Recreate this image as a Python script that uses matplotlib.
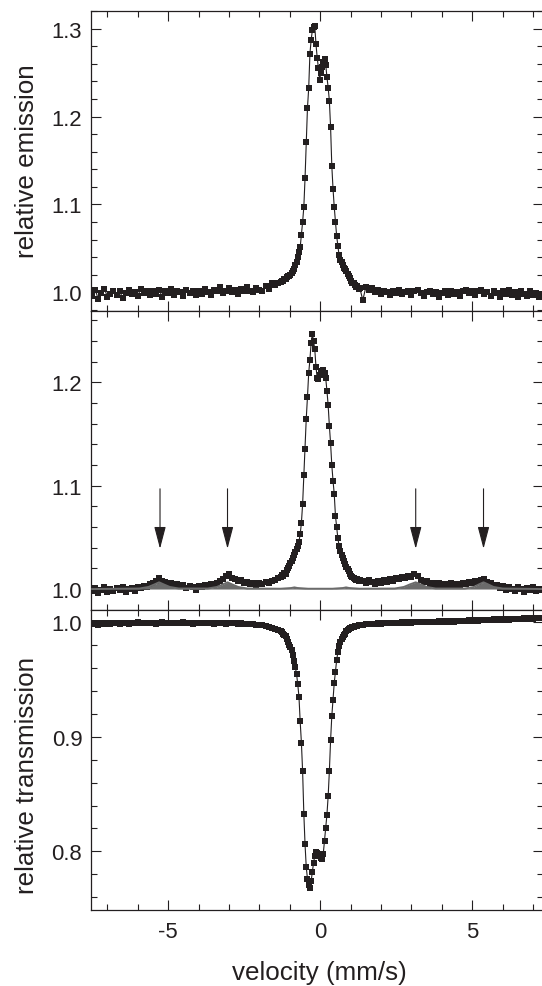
import numpy as np
import matplotlib.pyplot as plt
import matplotlib as mpl
from matplotlib.ticker import MultipleLocator, FormatStrFormatter

INK = "#231f20"
GREY = "#6b6b6b"
mpl.rcParams.update({"font.family": ["Liberation Sans", "DejaVu Sans"], "axes.unicode_minus": False,
    "text.color": INK, "axes.edgecolor": INK, "axes.labelcolor": INK,
    "xtick.color": INK, "ytick.color": INK, "axes.linewidth": 0.9})

# velocity channels (mm/s), shared by the three spectra
vel_left = [-7.5, -7.4, -7.3, -7.2, -7.1, -7.0, -6.9, -6.8, -6.7, -6.6,
            -6.5, -6.4, -6.3, -6.2, -6.1, -6.0, -5.9, -5.8, -5.7, -5.6,
            -5.5, -5.4, -5.3, -5.2, -5.1, -5.0, -4.9, -4.8, -4.7, -4.6,
            -4.5, -4.4, -4.3, -4.2, -4.1, -4.0, -3.9, -3.8, -3.7, -3.6,
            -3.5, -3.4, -3.3, -3.2, -3.1, -3.0, -2.9, -2.8, -2.7, -2.6,
            -2.5, -2.4, -2.3, -2.2, -2.1, -2.0, -1.9, -1.8, -1.7, -1.6,
            -1.5, -1.4]
vel_mid = [-1.30, -1.26, -1.22, -1.18, -1.14, -1.10, -1.06, -1.02, -0.98, -0.94,
           -0.90, -0.86, -0.82, -0.78, -0.74, -0.70, -0.66, -0.62, -0.58, -0.54,
           -0.50, -0.46, -0.42, -0.38, -0.34, -0.30, -0.26, -0.22, -0.18, -0.14,
           -0.10, -0.06, -0.02, 0.02, 0.06, 0.10, 0.14, 0.18, 0.22, 0.26,
           0.30, 0.34, 0.38, 0.42, 0.46, 0.50, 0.54, 0.58, 0.62, 0.66,
           0.70, 0.74, 0.78, 0.82, 0.86, 0.90, 0.94, 0.98, 1.02, 1.06,
           1.10, 1.14, 1.18, 1.22, 1.26, 1.30]
vel_right = [1.4, 1.5, 1.6, 1.7, 1.8, 1.9, 2.0, 2.1, 2.2, 2.3,
             2.4, 2.5, 2.6, 2.7, 2.8, 2.9, 3.0, 3.1, 3.2, 3.3,
             3.4, 3.5, 3.6, 3.7, 3.8, 3.9, 4.0, 4.1, 4.2, 4.3,
             4.4, 4.5, 4.6, 4.7, 4.8, 4.9, 5.0, 5.1, 5.2, 5.3,
             5.4, 5.5, 5.6, 5.7, 5.8, 5.9, 6.0, 6.1, 6.2, 6.3,
             6.4, 6.5, 6.6, 6.7, 6.8, 6.9, 7.0, 7.1, 7.2, 7.3]

# air side, relative emission
air_left = [0.996, 1.003, 0.992, 0.999, 1.004, 0.995, 0.998, 1.002, 0.997, 1.001,
            0.994, 0.999, 1.003, 0.998, 1.000, 0.996, 1.004, 0.999, 1.001, 0.997,
            1.002, 0.998, 1.003, 0.995, 1.001, 0.999, 1.004, 0.997, 1.002, 1.000,
            0.996, 1.003, 0.999, 1.001, 0.997, 1.002, 0.998, 1.004, 1.000, 0.997,
            1.003, 1.001, 1.006, 0.999, 1.002, 1.005, 1.000, 1.003, 0.998, 1.004,
            1.001, 1.006, 1.002, 1.000, 1.005, 1.003, 1.001, 1.007, 1.004, 1.010,
            1.008, 1.011]
air_mid = [1.012, 1.013, 1.013, 1.015, 1.015, 1.017, 1.018, 1.019, 1.020, 1.022,
           1.024, 1.027, 1.031, 1.035, 1.040, 1.046, 1.051, 1.065, 1.080, 1.097,
           1.130, 1.171, 1.210, 1.232, 1.271, 1.287, 1.298, 1.302, 1.303, 1.282,
           1.267, 1.255, 1.241, 1.250, 1.256, 1.262, 1.265, 1.259, 1.245, 1.233,
           1.218, 1.188, 1.144, 1.118, 1.097, 1.080, 1.064, 1.053, 1.042, 1.037,
           1.035, 1.031, 1.028, 1.026, 1.024, 1.021, 1.019, 1.016, 1.013, 1.011,
           1.010, 1.008, 1.006, 1.007, 1.004, 1.005]
air_right = [0.991, 1.006, 1.003, 1.005, 1.000, 1.003, 0.998, 1.002, 1.000, 0.997,
             1.001, 0.999, 1.003, 0.998, 1.000, 1.002, 0.997, 1.001, 1.003, 0.999,
             0.996, 1.000, 1.002, 0.998, 1.000, 0.995, 0.999, 1.001, 0.997, 1.002,
             0.998, 1.000, 0.996, 1.001, 1.003, 0.999, 1.002, 0.997, 1.001, 1.003,
             0.998, 1.000, 0.996, 1.002, 0.999, 0.995, 1.001, 0.998, 1.003, 0.997,
             1.000, 0.995, 1.002, 0.998, 0.996, 1.001, 0.997, 0.999, 0.995, 0.998]

# wheel side, relative emission
wheel_left = [0.998, 1.001, 0.996, 0.999, 1.002, 0.997, 1.000, 0.998, 1.001, 0.999,
              1.002, 0.997, 1.000, 1.001, 0.998, 1.002, 1.001, 1.003, 1.002, 1.005,
              1.006, 1.008, 1.011, 1.008, 1.007, 1.005, 1.006, 1.004, 1.005, 1.003,
              1.004, 1.001, 1.003, 1.002, 0.999, 1.003, 1.002, 1.004, 1.003, 1.005,
              1.004, 1.006, 1.008, 1.010, 1.013, 1.015, 1.011, 1.010, 1.008, 1.009,
              1.006, 1.007, 1.005, 1.006, 1.004, 1.006, 1.005, 1.007, 1.006, 1.008,
              1.009, 1.011]
wheel_mid = [1.012, 1.014, 1.013, 1.016, 1.015, 1.018, 1.020, 1.022, 1.025, 1.027,
             1.030, 1.033, 1.036, 1.039, 1.042, 1.046, 1.053, 1.064, 1.082, 1.110,
             1.136, 1.165, 1.186, 1.209, 1.222, 1.238, 1.247, 1.240, 1.232, 1.215,
             1.204, 1.203, 1.207, 1.209, 1.211, 1.212, 1.209, 1.204, 1.192, 1.178,
             1.158, 1.141, 1.120, 1.105, 1.092, 1.071, 1.060, 1.049, 1.042, 1.037,
             1.033, 1.030, 1.027, 1.024, 1.021, 1.019, 1.017, 1.015, 1.013, 1.012,
             1.011, 1.010, 1.009, 1.010, 1.008, 1.009]
wheel_right = [1.008, 1.006, 1.009, 1.007, 1.005, 1.008, 1.006, 1.009, 1.007, 1.010,
               1.008, 1.011, 1.010, 1.012, 1.011, 1.013, 1.012, 1.015, 1.013, 1.009,
               1.007, 1.008, 1.005, 1.006, 1.004, 1.006, 1.003, 1.005, 1.004, 1.006,
               1.003, 1.005, 1.004, 1.006, 1.005, 1.007, 1.006, 1.008, 1.007, 1.009,
               1.010, 1.007, 1.006, 1.003, 1.004, 1.001, 1.003, 0.999, 1.002, 1.000,
               0.998, 1.002, 1.000, 0.997, 1.001, 0.999, 1.002, 0.998, 1.000, 0.999]

# grey sub-spectrum under the wheel-side data
comp_vel = [-7.5, -5.95, -5.65, -5.45, -5.3, -5.15, -4.95, -4.65, -3.7, -3.4,
            -3.2, -3.05, -2.9, -2.7, -2.4, -1.3, -0.95, -0.85, -0.75, -0.4,
            0.4, 0.75, 0.85, 0.95, 1.3, 2.45, 2.75, 2.95, 3.14, 3.3,
            3.5, 3.8, 4.75, 5.05, 5.22, 5.37, 5.52, 5.7, 6.0, 7.3]
comp_em = [1.0, 1.0005, 1.002, 1.0045, 1.0065, 1.0045, 1.002, 1.0005, 1.0005, 1.002,
           1.0045, 1.0065, 1.0045, 1.002, 1.0005, 1.0003, 1.001, 1.0016, 1.001, 1.0003,
           1.0003, 1.001, 1.0016, 1.001, 1.0003, 1.0005, 1.002, 1.0045, 1.0065, 1.0045,
           1.002, 1.0005, 1.0005, 1.002, 1.0045, 1.0065, 1.0045, 1.002, 1.0005, 1.0]
arrow_vel = [-5.27, -3.05, 3.14, 5.37]

# transmission
trans_left = [0.9985, 0.9990, 0.9980, 0.9992, 0.9986, 0.9994, 0.9988, 0.9996, 0.9990, 0.9984,
              0.9993, 0.9998, 0.9989, 0.9995, 0.9991, 0.9999, 0.9990, 0.9994, 0.9998, 0.9992,
              0.9997, 0.9989, 0.9995, 0.9999, 0.9991, 0.9996, 0.9993, 0.9998, 0.9990, 0.9995,
              0.9999, 0.9992, 0.9996, 0.9988, 0.9994, 0.9997, 0.9990, 0.9995, 0.9992, 0.9997,
              0.9989, 0.9994, 0.9991, 0.9996, 0.9988, 0.9993, 0.9990, 0.9994, 0.9987, 0.9991,
              0.9985, 0.9989, 0.9983, 0.9986, 0.9980, 0.9978, 0.9975, 0.9968, 0.9960, 0.9952,
              0.9945, 0.9935]
trans_mid = [0.9925, 0.9915, 0.9900, 0.9890, 0.9878, 0.9855, 0.9830, 0.9805, 0.9785, 0.9760,
             0.9715, 0.9665, 0.9607, 0.9550, 0.9460, 0.9350, 0.9135, 0.8950, 0.8700, 0.8330,
             0.8060, 0.7860, 0.7760, 0.7710, 0.7680, 0.7740, 0.7820, 0.7900, 0.7960, 0.7990,
             0.7985, 0.7975, 0.7960, 0.7940, 0.7935, 0.7980, 0.8090, 0.8200, 0.8320, 0.8480,
             0.8700, 0.8970, 0.9180, 0.9320, 0.9470, 0.9570, 0.9670, 0.9740, 0.9790, 0.9825,
             0.9850, 0.9868, 0.9885, 0.9900, 0.9920, 0.9930, 0.9940, 0.9948, 0.9954, 0.9958,
             0.9962, 0.9965, 0.9970, 0.9972, 0.9976, 0.9978]
trans_right = [0.9980, 0.9984, 0.9981, 0.9987, 0.9985, 0.9990, 0.9988, 0.9993, 0.9990, 0.9996,
               0.9992, 0.9998, 0.9994, 0.9999, 0.9996, 1.0001, 0.9997, 1.0003, 0.9999, 1.0004,
               1.0000, 1.0006, 1.0002, 1.0007, 1.0003, 1.0009, 1.0004, 1.0010, 1.0006, 1.0012,
               1.0007, 1.0013, 1.0009, 1.0015, 1.0010, 1.0017, 1.0012, 1.0019, 1.0014, 1.0021,
               1.0016, 1.0023, 1.0018, 1.0025, 1.0020, 1.0027, 1.0022, 1.0029, 1.0024, 1.0031,
               1.0026, 1.0033, 1.0028, 1.0036, 1.0030, 1.0038, 1.0032, 1.0040, 1.0035, 1.0042]

vel = vel_left + vel_mid + vel_right
air = air_left + air_mid + air_right
wheel = wheel_left + wheel_mid + wheel_right
trans = trans_left + trans_mid + trans_right

W, H = 542, 987
fig = plt.figure(figsize=(W / 100, H / 100), dpi=100)
def box(top, bottom):  # pixel rows -> figure fraction
    return [91.3 / W, 1 - bottom / H, 451.2 / W, (bottom - top) / H]
ax1 = fig.add_axes(box(11.7, 312))
ax2 = fig.add_axes(box(312, 610.5))
ax3 = fig.add_axes(box(610.5, 910.7))

for ax, y, lim in [(ax1, air, (0.9787, 1.3204)), (ax2, wheel, (0.9802, 1.2691)),
                   (ax3, trans, (0.749, 1.0112))]:
    ax.plot(vel, y, "-", color=INK, lw=0.8, zorder=2)
    ax.plot(vel, y, "s", color=INK, ms=4.4, mew=0, zorder=2.5)
    ax.set_xlim(-7.53, 7.31); ax.set_ylim(*lim)
    ax.xaxis.set_major_locator(MultipleLocator(5)); ax.xaxis.set_minor_locator(MultipleLocator(1))
    ax.yaxis.set_major_locator(MultipleLocator(0.1)); ax.yaxis.set_minor_locator(MultipleLocator(0.02))
    ax.yaxis.set_major_formatter(FormatStrFormatter("%.1f"))
    ax.tick_params(which="both", direction="in", top=True, right=True, width=0.8)
    ax.tick_params(which="major", length=7, labelsize=15.9, pad=6.5)
    ax.tick_params(which="minor", length=4)
ax1.tick_params(labelbottom=False); ax2.tick_params(labelbottom=False)
ax3.tick_params(axis="x", pad=8)

ax2.fill_between(comp_vel, 1.0, comp_em, color=GREY, lw=0, zorder=3)
ax2.plot(comp_vel, comp_em, color=GREY, lw=1.4, zorder=3)
for v in arrow_vel:
    ax2.annotate("", xy=(v, 1.039), xytext=(v, 1.097),
                 arrowprops=dict(arrowstyle="-|>,head_length=1.37,head_width=0.36",
                                 color=INK, lw=0.8, mutation_scale=10, shrinkA=0, shrinkB=0))

ax1.text(6.18, 0.845, "air side", transform=ax1.get_yaxis_transform(), ha="right",
         va="baseline", fontsize=18.7)
ax2.text(6.81, 0.832, "wheel side", transform=ax2.get_yaxis_transform(), ha="right",
         va="baseline", fontsize=18.7)

fig.text(27 / W, 1 - 161 / H, "relative emission", rotation=90, ha="center", va="center", fontsize=18.7)
fig.text(27 / W, 1 - 775 / H, "relative transmission", rotation=90, ha="center", va="center", fontsize=18.7)
fig.text(319.5 / W, 1 - 973 / H, "velocity (mm/s)", ha="center", va="center", fontsize=18.7)

fig.savefig("out.png", dpi=100)
